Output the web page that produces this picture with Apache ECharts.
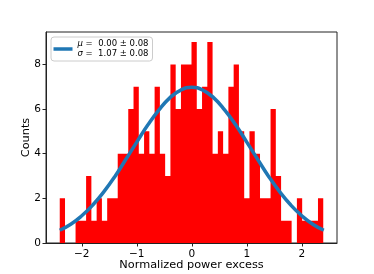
<!DOCTYPE html>
<html>
<head>
<meta charset="utf-8">
<script src="https://cdn.jsdelivr.net/npm/echarts@6/dist/echarts.min.js"></script>
<style>
html,body{margin:0;padding:0;background:#fff;}
#chart{width:374px;height:274px;}
</style>
</head>
<body>
<div id="chart"></div>
<script>
// Histogram: 50 bins between the data minimum and maximum
const binLow = -2.40;
const binHigh = 2.39;
const counts = [2,0,0,1,1,3,1,2,1,2,
                2,4,4,6,7,4,5,4,7,4,
                3,8,6,8,8,9,6,7,9,4,
                5,4,7,8,5,2,5,4,2,2,
                6,3,1,1,0,2,1,1,1,2];
// Gaussian fit curve
const fitX = [-2.4,-2.2,-2.0,-1.8,-1.6,-1.4,-1.2,-1.0,-0.8,-0.6,-0.4,-0.2,0.0,
              0.2,0.4,0.6,0.8,1.0,1.2,1.4,1.6,1.8,2.0,2.2,2.4];
const fitY = [0.57,0.84,1.22,1.70,2.29,2.97,3.74,4.52,5.28,5.95,6.50,6.85,6.97,
              6.85,6.50,5.95,5.28,4.52,3.74,2.97,2.29,1.70,1.22,0.84,0.57];
const xTicks = [-2,-1,0,1,2];
const yTicks = [0,2,4,6,8];
const legendLines = ['{i|μ} =  0.00 ± 0.08', '{i|σ} =  1.07 ± 0.08'];

const nb = counts.length;
const w = (binHigh - binLow) / nb;
// step outline of the histogram: one point per bin edge
const histData = counts.map((c, i) => [binLow + i * w, c]);
histData.push([binHigh, counts[nb - 1]]);
const fitData = fitX.map((x, i) => [x, fitY[i]]);
const fmt = v => (v < 0 ? '\u2212' + Math.abs(v) : String(v));
const font = 'DejaVu Sans';

const chart = echarts.init(document.getElementById('chart'), null, {renderer: 'canvas'});
chart.setOption({
  animation: false,
  backgroundColor: '#fff',
  textStyle: {fontFamily: font},
  grid: {left: 46, right: 37, top: 32, bottom: 31, outerBoundsMode: 'none', containLabel: false,
         show: true, borderColor: '#222', borderWidth: 1, backgroundColor: 'transparent'},
  legend: {
    left: 51, top: 37,
    padding: [2, 4, 2, 2.5],
    backgroundColor: 'rgba(255,255,255,0.85)',
    borderColor: '#ccc', borderWidth: 1, borderRadius: 3,
    itemWidth: 19, itemHeight: 3.5,
    data: [{name: 'fit', icon: 'rect'}],
    formatter: () => legendLines.join('\n'),
    textStyle: {fontFamily: font, fontSize: 8.5, lineHeight: 10, color: '#000',
      rich: {i: {fontFamily: font, fontStyle: 'italic', fontSize: 8.5, lineHeight: 10}}}
  },
  xAxis: {
    type: 'value', min: -2.65, max: 2.64, z: 10,
    name: 'Normalized power excess', nameLocation: 'middle', nameGap: 17, nameMoveOverlap: false,
    nameTextStyle: {fontFamily: font, fontSize: 11.3, color: '#000'},
    axisLine: {show: true, onZero: false, lineStyle: {color: '#222', width: 1}},
    axisTick: {show: true, length: 3.5, inside: false, customValues: xTicks, lineStyle: {color: '#222'}},
    axisLabel: {customValues: xTicks, formatter: fmt, fontFamily: font, fontSize: 10.5, color: '#000', margin: 6},
    splitLine: {show: false}
  },
  yAxis: {
    type: 'value', min: 0, max: 9.45, z: 10,
    name: 'Counts', nameLocation: 'middle', nameGap: 14, nameMoveOverlap: false,
    nameTextStyle: {fontFamily: font, fontSize: 11.3, color: '#000'},
    axisLine: {show: true, onZero: false, lineStyle: {color: '#222', width: 1}},
    axisTick: {show: true, length: 3.5, inside: false, customValues: yTicks, lineStyle: {color: '#222'}},
    axisLabel: {customValues: yTicks, formatter: fmt, fontFamily: font, fontSize: 10.5, color: '#000', margin: 5},
    splitLine: {show: false}
  },
  series: [
    {
      type: 'line', name: 'hist', z: 2,
      step: 'end', showSymbol: false, symbol: 'none',
      data: histData,
      lineStyle: {width: 0, color: '#ff0000'},
      itemStyle: {color: '#ff0000'},
      areaStyle: {color: '#ff0000', opacity: 1, origin: 'start'}
    },
    {
      type: 'line', name: 'fit', z: 5,
      data: fitData, smooth: true, showSymbol: false,
      itemStyle: {color: '#1f77b4'},
      lineStyle: {color: '#1f77b4', width: 3.5}
    }
  ]
});
</script>
</body>
</html>
